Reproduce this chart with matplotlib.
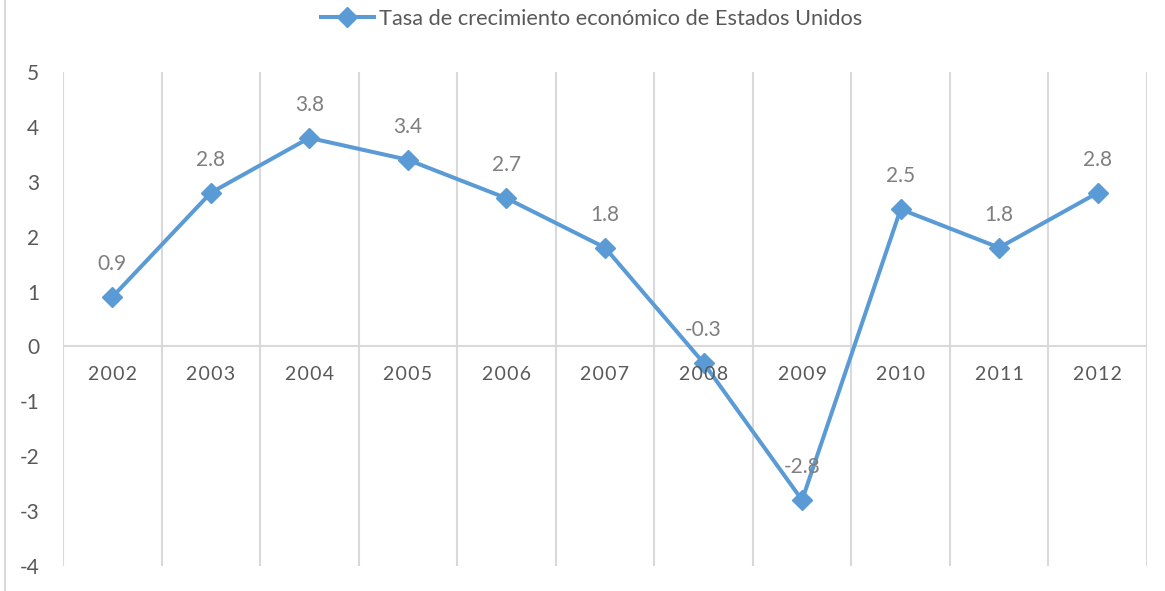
import matplotlib

matplotlib.use("Agg")
import matplotlib.pyplot as plt
from matplotlib.lines import Line2D
import numpy as np

years = ["2002", "2003", "2004", "2005", "2006", "2007", "2008", "2009", "2010", "2011", "2012"]
growth = [0.9, 2.8, 3.8, 3.4, 2.7, 1.8, -0.3, -2.8, 2.5, 1.8, 2.8]
series_name = "Tasa de crecimiento económico de Estados Unidos"

BLUE = "#5B9BD5"
GRID = "#D9D9D9"
TEXT = "#595959"
LABEL = "#7F7F7F"

plt.rcParams["font.family"] = ["Lato", "DejaVu Sans"]
plt.rcParams["axes.unicode_minus"] = False

W, H = 1165, 591
fig = plt.figure(figsize=(W / 100, H / 100), dpi=100)
ax = fig.add_axes([63 / W, 25 / H, (1147 - 63) / W, (566 - 72) / H])

x = np.arange(len(years))
ax.plot(x, growth, color=BLUE, lw=2.9, marker="D", ms=10, mec=BLUE, mfc=BLUE,
        label=series_name, zorder=3)

# data labels above each point
for xi, v in zip(x, growth):
    ax.annotate(f"{v:g}", (xi, v), xytext=(0, 33), textcoords="offset pixels",
                ha="center", va="center", fontsize=15, color=LABEL, zorder=4)

# category labels just under the zero line (Excel-ish letter spacing)
for xi, yr in zip(x, years):
    ax.annotate("\u200a".join(yr), (xi, 0), xytext=(0, -28), textcoords="offset pixels",
                ha="center", va="center", fontsize=14, color=TEXT)

ax.set_xlim(-0.5, len(years) - 0.5)
ax.set_ylim(-4, 5)
ax.set_yticks(range(-4, 6))
ax.set_xticks([])
ax.set_xticks(np.arange(-0.5, len(years), 1), minor=True)
ax.tick_params(axis="x", which="minor", length=0)
ax.tick_params(axis="y", length=0, pad=17, labelsize=15, labelcolor=TEXT)
ax.grid(True, which="minor", axis="x", color=GRID, lw=1.5)
ax.axhline(0, color=GRID, lw=1.5, zorder=1)
for s in ax.spines.values():
    s.set_visible(False)

ax.legend(loc="center", bbox_to_anchor=(592 / W, 1 - 19 / H), bbox_transform=fig.transFigure,
          frameon=False, fontsize=15.7, labelcolor=TEXT, handlelength=2.4, handletextpad=0.27)

# chart frame left edge
fig.add_artist(Line2D([5 / W, 5 / W], [0, 1], color=GRID, lw=1.5, transform=fig.transFigure))

fig.savefig("out.png", dpi=100)
